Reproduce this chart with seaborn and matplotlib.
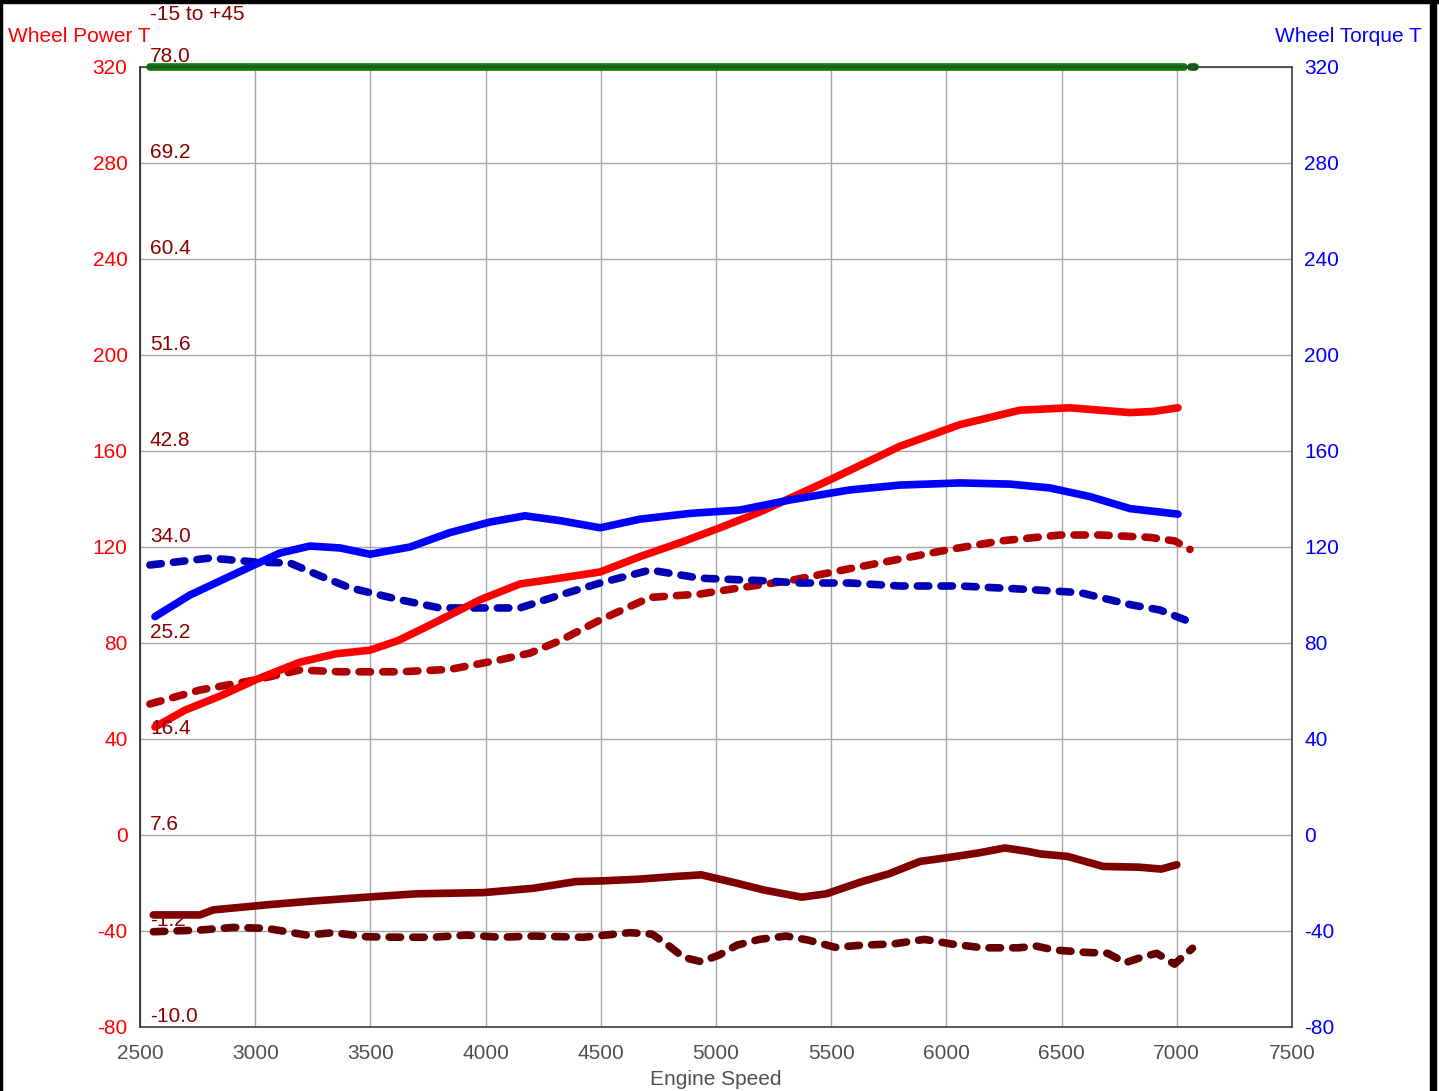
import numpy as np
import pandas as pd
import matplotlib
matplotlib.use("Agg")
import matplotlib.pyplot as plt
import seaborn as sns
from matplotlib.patches import Rectangle

# ---- data ----
power_rpm = [2565, 2695, 2850, 3000, 3194, 3350, 3498, 3620, 3759, 3976, 4149, 4320,
             4497, 4670, 4850, 5017, 5191, 5495, 5799, 6059, 6319, 6536, 6797, 6900, 7005]
power = [45, 52, 58, 64.6, 72, 75.5, 77, 81, 87.5, 98, 104.6, 107,
         109.6, 116, 122, 128, 134.6, 148, 162, 171, 177, 178, 176, 176.5, 178]

torque_rpm = [2565, 2717, 2977, 3108, 3238, 3368, 3498, 3672, 3845, 4019, 4171, 4323,
              4497, 4670, 4887, 5104, 5321, 5582, 5799, 6059, 6276, 6450, 6623, 6797, 7005]
torque = [91, 100, 111.7, 117.5, 120.4, 119.6, 117, 120, 126, 130.4, 133, 131,
          128, 131.6, 134, 135.4, 139.6, 143.8, 145.8, 146.7, 146.2, 144.6, 141, 136, 133.7]

power2_rpm = [2543, 2760, 3000, 3194, 3368, 3628, 3845, 4063, 4193, 4323, 4497, 4714,
              4931, 5104, 5321, 5582, 5799, 6016, 6233, 6493, 6667, 6884, 6992, 7057]
power2 = [54.6, 60.4, 64.6, 68.75, 68, 68, 69, 73, 75.8, 81, 89.6, 99,
          100.4, 103, 106, 111, 115, 119, 122.5, 125, 125, 124, 122.5, 119]

torque2_rpm = [2543, 2804, 3000, 3151, 3281, 3411, 3628, 3802, 4063, 4149, 4323, 4497,
               4714, 4931, 5191, 5365, 5582, 5799, 6059, 6319, 6580, 6797, 6927, 7079]
torque2 = [112.5, 115.4, 113.75, 113.3, 108, 103, 98, 94.6, 94.6, 94.6, 100, 105,
           110.4, 107, 106, 105, 105, 103.75, 103.75, 102.5, 101, 96, 93.75, 88]

afr_rpm = [2558, 2760, 2818, 3050, 3252, 3484, 3700, 3990, 4207, 4393, 4510, 4665,
           4820, 4936, 5091, 5207, 5372, 5479, 5634, 5750, 5886, 6021, 6138, 6254,
           6351, 6409, 6525, 6680, 6835, 6932, 7000]
afr = [-33.3, -33.3, -31.2, -29.1, -27.5, -25.9, -24.5, -24.0, -22.2, -19.4, -19.1, -18.4,
       -17.3, -16.6, -20.1, -22.9, -25.9, -24.5, -19.4, -16.2, -11.0, -9.2, -7.5, -5.4,
       -6.8, -7.9, -8.9, -13.1, -13.4, -14.2, -12.4]

afr2_rpm = [2558, 2760, 2905, 3050, 3137, 3223, 3339, 3484, 3628, 3773, 3918, 4062,
            4207, 4424, 4626, 4723, 4800, 4859, 4936, 5014, 5091, 5188, 5304, 5401,
            5517, 5634, 5769, 5905, 6021, 6157, 6312, 6390, 6467, 6603, 6700, 6777,
            6855, 6913, 6990, 7068]
afr2 = [-40.3, -39.6, -38.5, -38.9, -40.3, -41.7, -40.7, -42.4, -42.6, -42.6, -41.7, -42.6,
        -42.1, -42.6, -40.7, -41.3, -46.5, -51.0, -52.8, -50.0, -45.9, -43.5, -42.1, -43.8,
        -46.8, -45.9, -45.4, -43.5, -45.4, -47.0, -47.0, -46.3, -47.9, -48.9, -49.3, -53.2,
        -50.7, -49.3, -53.8, -47.2]

green_rpm = [2545, 7030]
green_end_rpm = [7062, 7080]
green_val = [320, 320]

left_ticks = [-80, -40, 0, 40, 80, 120, 160, 200, 240, 280, 320]
inner_labels = ["-10.0", "-1.2", "7.6", "16.4", "25.2", "34.0", "42.8", "51.6", "60.4", "69.2", "78.0"]
x_ticks = [2500, 3000, 3500, 4000, 4500, 5000, 5500, 6000, 6500, 7000, 7500]

sns.set_style("white")
plt.rcParams['font.family'] = ['Liberation Sans', 'DejaVu Sans']
plt.rcParams['axes.unicode_minus'] = False

fs = 15
fig = plt.figure(figsize=(14.39, 10.91), dpi=100)
ax = fig.add_axes([140 / 1439, 1 - 1027 / 1091, 1152 / 1439, 960 / 1091])

lw = 5.5
dash = (0, (1.5, 1.6))
common = dict(ax=ax, linewidth=lw, solid_capstyle='round', dash_capstyle='round',
              solid_joinstyle='round', legend=False, sort=False)

sns.lineplot(x=afr2_rpm, y=afr2, color='#650000', linestyle=dash, **common)
sns.lineplot(x=afr_rpm, y=afr, color='#800000', **common)
sns.lineplot(x=power2_rpm, y=power2, color='#b00000', linestyle=dash, **common)
sns.lineplot(x=torque2_rpm, y=torque2, color='#0000b4', linestyle=dash, **common)
sns.lineplot(x=power_rpm, y=power, color='#ff0000', **common)
sns.lineplot(x=torque_rpm, y=torque, color='#0000ff', **common)
sns.lineplot(x=green_rpm, y=green_val, color='#008000', **common)
sns.lineplot(x=green_end_rpm, y=green_val, color='#006400', **common)
for ln in ax.lines:
    ln.set_clip_on(False)

ax.set_xlim(2500, 7500)
ax.set_ylim(-80, 320)
ax.set_xticks(x_ticks)
ax.set_yticks(left_ticks)
ax.grid(True, color='#a6a6a6', linewidth=1)
ax.set_axisbelow(True)
for s in ax.spines.values():
    s.set_color('#404040')
    s.set_linewidth(1.2)
ax.spines['left'].set_color('#202020')

ax.tick_params(axis='x', colors='#505050', labelsize=fs, length=0, pad=12)
ax.tick_params(axis='y', colors='#ff0000', labelsize=fs, length=0, pad=9)
ax.set_xlabel('Engine Speed', color='#505050', fontsize=fs, labelpad=5)
ax.set_ylabel('')

ax2 = ax.twinx()
ax2.set_ylim(-80, 320)
ax2.set_yticks(left_ticks)
ax2.tick_params(axis='y', colors='#0000ff', labelsize=fs, length=0, pad=9)
for s in ax2.spines.values():
    s.set_visible(False)

# third scale printed inside the plot
for v, lab in zip(left_ticks, inner_labels):
    ax.text(2543, v + 0.6, lab, color='#8b0000', fontsize=fs, ha='left', va='bottom')

fig.text(150 / 1439, 1 - 15 / 1091, '-15 to +45', color='#8b0000', fontsize=fs,
         ha='left', va='center')
fig.text(8 / 1439, 1 - 37 / 1091, 'Wheel Power T', color='#ff0000', fontsize=fs,
         ha='left', va='center')
fig.text(1422 / 1439, 1 - 37 / 1091, 'Wheel Torque T', color='#0000ff', fontsize=fs,
         ha='right', va='center')

# black frame edges
fig.patches.append(Rectangle((0, 1 - 3 / 1091), 1, 3 / 1091, transform=fig.transFigure,
                             color='black', zorder=10))
fig.patches.append(Rectangle((0, 0), 2 / 1439, 1, transform=fig.transFigure,
                             color='black', zorder=10))
fig.patches.append(Rectangle((1430 / 1439, 0), 6 / 1439, 1, transform=fig.transFigure,
                             color='black', zorder=10))

fig.savefig('out.png', dpi=100)
